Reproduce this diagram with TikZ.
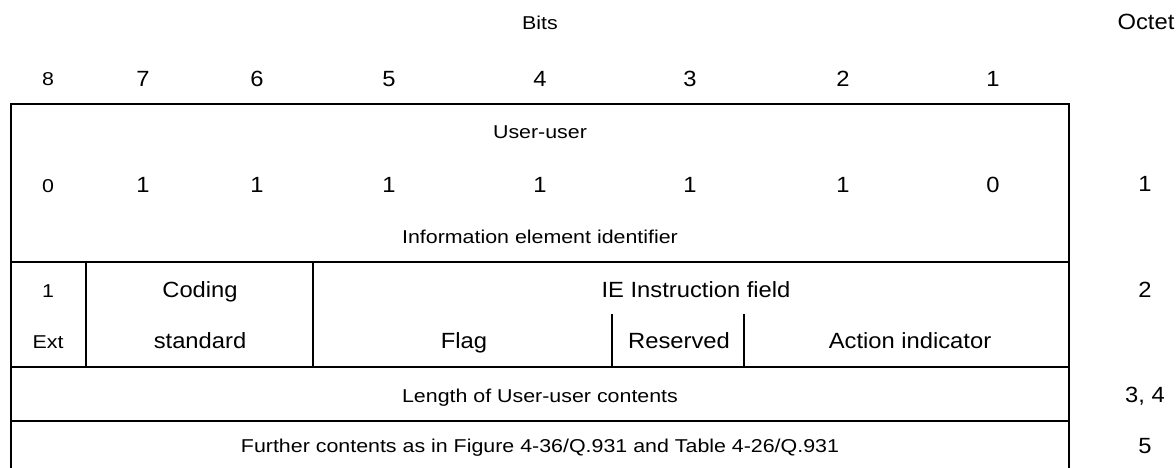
\documentclass[tikz,border=0pt]{standalone}
\usepackage{fontspec}
\setmainfont{Liberation Sans}[FakeStretch=1.15]
\newfontfamily\lgfont{Liberation Sans}[FakeStretch=1.08]
\begin{document}
\begin{tikzpicture}[x=1pt,y=-1pt,
  frame/.style={line width=2pt,line cap=rect},
  sm/.style={font=\fontsize{18.6}{21}\selectfont,inner sep=0pt,anchor=base},
  lg/.style={font=\lgfont\fontsize{22}{25}\selectfont,inner sep=0pt,anchor=base}]
\useasboundingbox (0,0) rectangle (1176,467);
% headers
\node[sm] (bits) at (540,29) {Bits};
\node[lg] (octet) at (1146,29) {Octet};
\node[sm] (b8) at (48,85) {8};
\node[lg] (b7) at (143,86) {7};
\node[lg] (b6) at (257,86) {6};
\node[lg] (b5) at (389,86) {5};
\node[lg] (b4) at (540,86) {4};
\node[lg] (b3) at (690,86) {3};
\node[lg] (b2) at (843,86) {2};
\node[lg] (b1) at (993,86) {1};
% frame
\draw[frame] (11,467) -- (11,104) -- (1069,104) -- (1069,467);
\draw[frame] (11,262) -- (1069,262);
\draw[frame] (11,367) -- (1069,367);
\draw[frame] (11,421) -- (1069,421);
\draw[frame] (86,262) -- (86,367);
\draw[frame] (313,262) -- (313,367);
\draw[frame] (612,315) -- (612,367);
\draw[frame] (744,315) -- (744,367);
% row 1
\node[sm] (uu) at (540,138) {User-user};
\node[sm] (v8) at (48,192) {0};
\node[lg] (v7) at (143,192) {1};
\node[lg] (v6) at (257,192) {1};
\node[lg] (v5) at (389,192) {1};
\node[lg] (v4) at (540,192) {1};
\node[lg] (v3) at (690,192) {1};
\node[lg] (v2) at (843,192) {1};
\node[lg] (v1) at (993,192) {0};
\node[lg] (o1) at (1145,191) {1};
\node[sm] (iei) at (540,243) {Information element identifier};
% row 2
\node[sm] (ext1) at (48,297) {1};
\node[sm] (ext) at (48,348) {Ext};
\node[lg] (cod) at (200,297) {Coding};
\node[lg] (std) at (200,348) {standard};
\node[lg] (ie) at (696,297) {IE Instruction field};
\node[lg] (flag) at (464,348) {Flag};
\node[lg] (res) at (679,348) {Reserved};
\node[lg] (act) at (910,348) {Action indicator};
\node[lg] (o2) at (1145,297) {2};
% row 3
\node[sm] (len) at (540,402) {Length of User-user contents};
\node[lg] (o3) at (1145,402) {3, 4};
% row 4
\node[sm] (fur) at (540,452) {Further contents as in Figure 4-36/Q.931 and Table 4-26/Q.931};
\node[lg] (o5) at (1145,453) {5};
\end{tikzpicture}
\end{document}
